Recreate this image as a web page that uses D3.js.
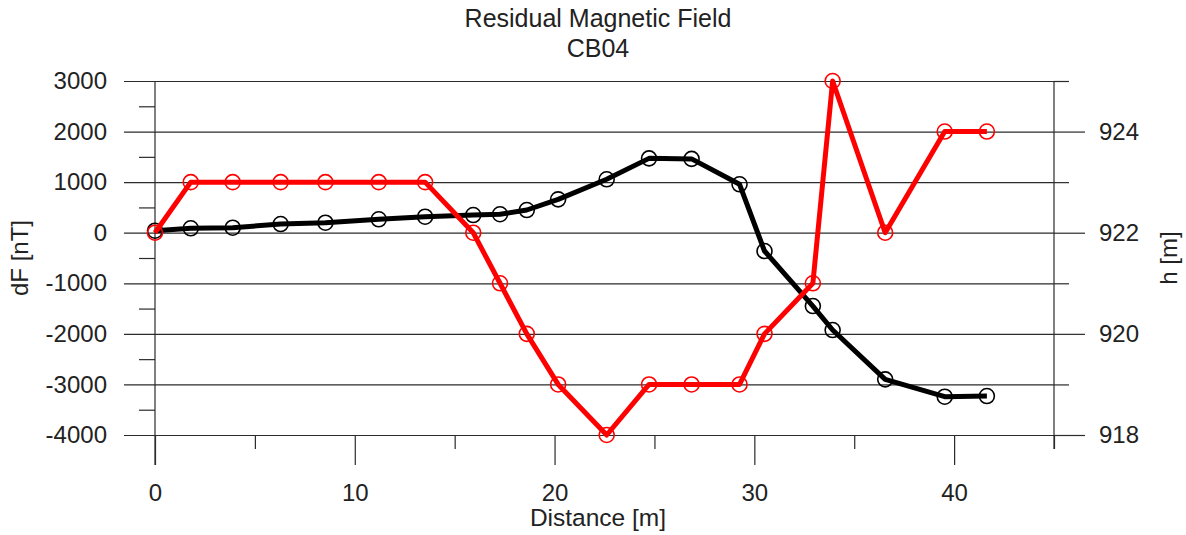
<!DOCTYPE html>
<html>
<head>
<meta charset="utf-8">
<script src="https://cdnjs.cloudflare.com/ajax/libs/d3/7.8.5/d3.min.js"></script>
<style>
body { margin: 0; background: #fff; }
text { font-family: "Liberation Sans", Arial, sans-serif; fill: #222; }
.axis path.domain { display: none; }
.axis line { stroke: #2b2b2b; stroke-width: 1.2; }
.axis text { font-size: 24px; fill: #222; font-family: "Liberation Sans", Arial, sans-serif; }
</style>
</head>
<body>
<div id="container"></div>
<script>
// distance along profile [m]
var distance = [0, 1.79, 3.89, 6.29, 8.53, 11.2, 13.52, 15.93, 17.27, 18.61, 20.18,
		22.61, 24.73, 26.86, 29.26, 30.51, 32.93, 33.92, 36.55, 39.53, 41.64];
// residual field dF [nT] (left axis)
var dF = [40, 87, 99, 172, 198, 265, 316, 350, 365, 449, 660,
	  1056, 1470, 1460, 957, -362, -1450, -1924, -2900, -3243, -3229];
// height h [m] (right axis)
var h = [922, 923, 923, 923, 923, 923, 923, 922, 921, 920, 919,
	 918, 919, 919, 919, 920, 921, 925, 922, 924, 924];

var xTicks = [0, 10, 20, 30, 40];
var xMinor = [5, 15, 25, 35, 45];
var dfTicks = [-4000, -3000, -2000, -1000, 0, 1000, 2000, 3000];
var dfMinor = [-3500, -2500, -1500, -500, 500, 1500, 2500];
var hTicks = [918, 920, 922, 924];
var hMinor = [919, 921, 923, 925];

var init = function(){

    var width = 1186, height = 535;
    var m_left = 155, m_right = 1054, m_top = 81, m_bottom = 435;
    var grid_start = 124;

    // plain hyphen minus, no thousands separator
    var plain = function(d){ return d < 0 ? "-" + Math.abs(d) : String(d); };

    var svg = d3.select("#container").append("svg")
	.attr("width", width)
	.attr("height", height);

    var x = d3.scaleLinear().domain([0, 45]).range([m_left, m_right]);
    var yL = d3.scaleLinear().domain([-4000, 3000]).range([m_bottom, m_top]);
    var yR = d3.scaleLinear().domain([918, 925]).range([m_bottom, m_top]);

    // horizontal grid with left labels
    svg.append("g")
	.attr("class", "axis")
	.attr("transform", "translate(" + grid_start + ",0)")
	.call(d3.axisLeft(yL).tickValues(dfTicks).tickSize(-(m_right - grid_start))
	      .tickPadding(17).tickFormat(plain));

    svg.append("g")
	.attr("class", "axis")
	.attr("transform", "translate(" + m_left + ",0)")
	.call(d3.axisLeft(yL).tickValues(dfMinor).tickSize(16).tickFormat(""));

    // right axis
    svg.append("g")
	.attr("class", "axis")
	.attr("transform", "translate(" + m_right + ",0)")
	.call(d3.axisRight(yR).tickValues(hTicks).tickSize(31).tickPadding(14)
	      .tickFormat(plain));

    svg.append("g")
	.attr("class", "axis")
	.attr("transform", "translate(" + m_right + ",0)")
	.call(d3.axisRight(yR).tickValues(hMinor).tickSize(15).tickFormat(""));

    // bottom axis
    svg.append("g")
	.attr("class", "axis")
	.attr("transform", "translate(0," + m_bottom + ")")
	.call(d3.axisBottom(x).tickValues(xTicks).tickSize(30).tickPadding(19)
	      .tickFormat(plain));

    svg.append("g")
	.attr("class", "axis")
	.attr("transform", "translate(0," + m_bottom + ")")
	.call(d3.axisBottom(x).tickValues(xMinor).tickSize(14).tickFormat(""));

    // vertical axis lines
    svg.append("line")
	.attr("x1", m_left).attr("x2", m_left)
	.attr("y1", m_top).attr("y2", m_bottom + 30)
	.attr("stroke", "#2b2b2b").attr("stroke-width", 1.2);
    svg.append("line")
	.attr("x1", m_right).attr("x2", m_right)
	.attr("y1", m_top).attr("y2", m_bottom + 14)
	.attr("stroke", "#2b2b2b").attr("stroke-width", 1.2);

    // series
    var draw_series = function(values, yScale, color){
	var pts = distance.map(function(d, i){ return [x(d), yScale(values[i])]; });
	svg.append("path")
	    .attr("d", d3.line()(pts))
	    .attr("fill", "none")
	    .attr("stroke", color)
	    .attr("stroke-width", 5)
	    .attr("stroke-linejoin", "round");
	svg.append("g").selectAll("circle")
	    .data(pts)
	    .enter().append("circle")
	    .attr("cx", function(p){ return p[0]; })
	    .attr("cy", function(p){ return p[1]; })
	    .attr("r", 7.5)
	    .attr("fill", "none")
	    .attr("stroke", color)
	    .attr("stroke-width", 1.6);
    };

    draw_series(dF, yL, "#000");
    draw_series(h, yR, "#ff0000");

    // titles
    svg.append("text")
	.attr("x", 598).attr("y", 27)
	.attr("text-anchor", "middle")
	.style("font-size", "25px")
	.text("Residual Magnetic Field");
    svg.append("text")
	.attr("x", 598).attr("y", 57)
	.attr("text-anchor", "middle")
	.style("font-size", "25px")
	.text("CB04");

    svg.append("text")
	.attr("x", 598).attr("y", 526)
	.attr("text-anchor", "middle")
	.style("font-size", "24.5px")
	.text("Distance [m]");

    svg.append("text")
	.attr("transform", "translate(28,258) rotate(-90)")
	.attr("text-anchor", "middle")
	.style("font-size", "24px")
	.text("dF [nT]");

    svg.append("text")
	.attr("transform", "translate(1177,258) rotate(-90)")
	.attr("text-anchor", "middle")
	.style("font-size", "24px")
	.text("h [m]");
};

init();
</script>
</body>
</html>
